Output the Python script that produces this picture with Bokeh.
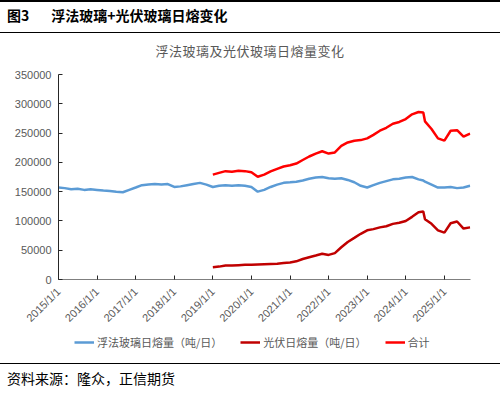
import pandas as pd
from bokeh.plotting import figure
from bokeh.models import Div, FixedTicker, Range1d, Legend, LegendItem, ColumnDataSource
from bokeh.layouts import column
from bokeh.embed import file_html
from bokeh.resources import INLINE

# ---------------- data (thousand tonnes/day, x1000 below) ----------------
float_dates = ["2015-01-01", "2015-03-01", "2015-05-01", "2015-07-01", "2015-09-01", "2015-11-01",
               "2016-01-01", "2016-03-01", "2016-05-01", "2016-07-01", "2016-09-01", "2016-11-01",
               "2017-01-01", "2017-03-01", "2017-05-01", "2017-07-01", "2017-09-01", "2017-11-01",
               "2018-01-01", "2018-03-01", "2018-05-01", "2018-07-01", "2018-09-01", "2018-11-01",
               "2019-01-01", "2019-03-01", "2019-05-01", "2019-07-01", "2019-09-01", "2019-11-01",
               "2020-01-01", "2020-03-01", "2020-05-01", "2020-07-01", "2020-09-01", "2020-11-01",
               "2021-01-01", "2021-03-01", "2021-05-01", "2021-07-01", "2021-09-01", "2021-11-01",
               "2022-01-01", "2022-03-01", "2022-05-01", "2022-07-01", "2022-09-01", "2022-11-01",
               "2023-01-01", "2023-03-01", "2023-05-01", "2023-07-01", "2023-09-01", "2023-11-01",
               "2024-01-01", "2024-03-01", "2024-05-01", "2024-06-15", "2024-07-01", "2024-09-01", "2024-11-01",
               "2025-01-01", "2025-03-01", "2025-05-01", "2025-07-01", "2025-09-01"]
float_glass = [157, 156, 154, 155, 153, 154,
               153, 152, 151, 150, 149, 153,
               157, 161, 162, 163, 162, 163,
               158, 159, 161, 163, 165, 162,
               158, 160, 161, 160, 161, 160,
               158, 150, 153, 158, 162, 165,
               166, 167, 169, 172, 174, 175,
               173, 172, 173, 170, 166, 160,
               157, 161, 165, 168, 171, 172,
               174, 175, 171, 169, 167, 162, 157,
               157, 158, 156, 157, 160]

pv_dates = ["2019-01-01", "2019-03-01", "2019-05-01", "2019-07-01", "2019-09-01", "2019-11-01",
            "2020-01-01", "2020-03-01", "2020-05-01", "2020-07-01", "2020-09-01", "2020-11-01",
            "2021-01-01", "2021-03-01", "2021-05-01", "2021-07-01", "2021-09-01", "2021-11-01",
            "2022-01-01", "2022-03-01", "2022-05-01", "2022-07-01", "2022-09-01", "2022-11-01",
            "2023-01-01", "2023-03-01", "2023-05-01", "2023-07-01", "2023-09-01", "2023-11-01",
            "2024-01-01", "2024-03-01", "2024-05-01", "2024-06-15", "2024-07-01", "2024-09-01", "2024-11-01",
            "2025-01-01", "2025-03-01", "2025-05-01", "2025-07-01", "2025-09-01"]
pv_glass = [21, 22, 24, 24, 24.5, 25,
            25, 25.5, 26, 26.5, 27, 28,
            29, 31, 35, 38, 41, 44,
            42, 45, 55, 64, 71, 78,
            84, 86, 89, 91, 95, 97,
            100, 107, 115, 116, 103, 95, 84,
            80, 96, 99, 87, 89]
total = [179, 182, 185, 184, 185.5, 185,
         183, 175.5, 179, 184.5, 189, 193,
         195, 198, 204, 210, 215, 219,
         215, 217, 228, 234, 237, 238,
         241, 247, 254, 259, 266, 269,
         274, 282, 286, 285, 270, 257, 241,
         237, 254, 255, 244, 249]

y_ticks = [0, 50000, 100000, 150000, 200000, 250000, 300000, 350000]
x_tick_years = list(range(2015, 2026))
x_tick_labels = [f"{y}/1/1" for y in x_tick_years]

series_names = ["浮法玻璃日熔量（吨/日）", "光伏日熔量（吨/日）", "合计"]
series_colors = ["#5B9BD5", "#C00000", "#FF0000"]
header_text = "浮法玻璃+光伏玻璃日熔变化"
chart_title = "浮法玻璃及光伏玻璃日熔量变化"
source_text = "资料来源：隆众，正信期货"

# ---------------- build ----------------
CJK = "'Noto Sans CJK SC'"
W = 500

src_f = ColumnDataSource(dict(x=pd.to_datetime(float_dates), y=[v * 1000 for v in float_glass]))
src_p = ColumnDataSource(dict(x=pd.to_datetime(pv_dates), y=[v * 1000 for v in pv_glass]))
src_t = ColumnDataSource(dict(x=pd.to_datetime(pv_dates), y=[v * 1000 for v in total]))

header = Div(
    text=(f'<div style="box-sizing:border-box;width:{W}px;height:33px;border-top:2px solid #000;'
          f'border-bottom:1px solid #000;font-family:{CJK};font-weight:bold;font-size:14px;'
          f'line-height:26px;padding-left:7px;color:#000;white-space:nowrap;">图3'
          f'<span style="margin-left:22px;">{header_text}</span></div>'),
    width=W, height=33, margin=0)

title_div = Div(
    text=(f'<div style="box-sizing:border-box;width:{W}px;height:30px;text-align:center;'
          f'font-family:{CJK};font-size:13px;letter-spacing:0.5px;color:#595959;padding-top:10px;'
          f'line-height:16px;white-space:nowrap;">{chart_title}</div>'),
    width=W, height=30, margin=0)

p = figure(frame_width=412, frame_height=205, x_axis_type="datetime", output_backend="svg",
           toolbar_location=None, min_border_left=58, min_border_right=30,
           min_border_top=11, min_border_bottom=51, margin=0)
p.x_range = Range1d(start=pd.Timestamp("2015-01-01"), end=pd.Timestamp("2025-09-05"))
p.y_range = Range1d(start=0, end=350000)
p.outline_line_color = None
p.xgrid.visible = False
p.ygrid.visible = False

p.line("x", "y", source=src_f, line_color=series_colors[0], line_width=2.5)
p.line("x", "y", source=src_p, line_color=series_colors[1], line_width=2.5)
p.line("x", "y", source=src_t, line_color=series_colors[2], line_width=2.5)

tick_ms = [pd.Timestamp(f"{y}-01-01").value / 1e6 for y in x_tick_years]
p.xaxis.ticker = FixedTicker(ticks=tick_ms)
p.xaxis.major_label_overrides = {t: lab for t, lab in zip(tick_ms, x_tick_labels)}
p.xaxis.major_label_orientation = 0.785398
p.yaxis.ticker = FixedTicker(ticks=y_ticks)
p.yaxis.formatter.use_scientific = False

for ax in (p.xaxis, p.yaxis):
    ax.major_tick_in = 4
    ax.major_tick_out = 0
    ax.minor_tick_line_color = None
    ax.major_label_text_font = "Liberation Sans"
    ax.major_label_text_font_size = "11px"
    ax.major_label_text_color = "#595959"
p.yaxis.axis_line_color = "#262626"
p.yaxis.major_tick_line_color = "#262626"
p.xaxis.axis_line_color = "#7f7f7f"
p.xaxis.major_tick_line_color = "#262626"
p.yaxis.major_label_standoff = 7
p.xaxis.major_label_standoff = 10

# legend strip (separate figure without axes; legend proxies styled like the series)
lg = figure(width=W, height=32, output_backend="svg", toolbar_location=None,
            x_axis_location=None, y_axis_location=None,
            min_border=0, margin=0, x_range=Range1d(0, 1), y_range=Range1d(0, 1))
lg.xgrid.visible = False
lg.ygrid.visible = False
lg.outline_line_color = None
proxies = [lg.line(x=[-1, -1], y=[-1, -1], line_color=c, line_width=2.5) for c in series_colors]
legend = Legend(items=[LegendItem(label=n, renderers=[r]) for n, r in zip(series_names, proxies)],
                orientation="horizontal", location=(16, 13),
                label_text_font="Noto Sans CJK SC", label_text_font_size="11px",
                label_text_color="#595959", glyph_width=20, glyph_height=12,
                label_standoff=3, spacing=18, padding=0, margin=0,
                border_line_color=None, background_fill_alpha=0)
lg.add_layout(legend)

footer = Div(
    text=(f'<div style="box-sizing:border-box;width:{W}px;height:32px;border-top:1px solid #000;'
          f'border-bottom:1px solid #000;font-family:{CJK};font-size:14px;line-height:29px;'
          f'padding-left:7px;color:#000;white-space:nowrap;">{source_text}</div>'),
    width=W, height=32, margin=0)

layout = column(header, title_div, p, lg, footer, spacing=0)

with open("out.html", "w") as f:
    f.write(file_html(layout, INLINE))
